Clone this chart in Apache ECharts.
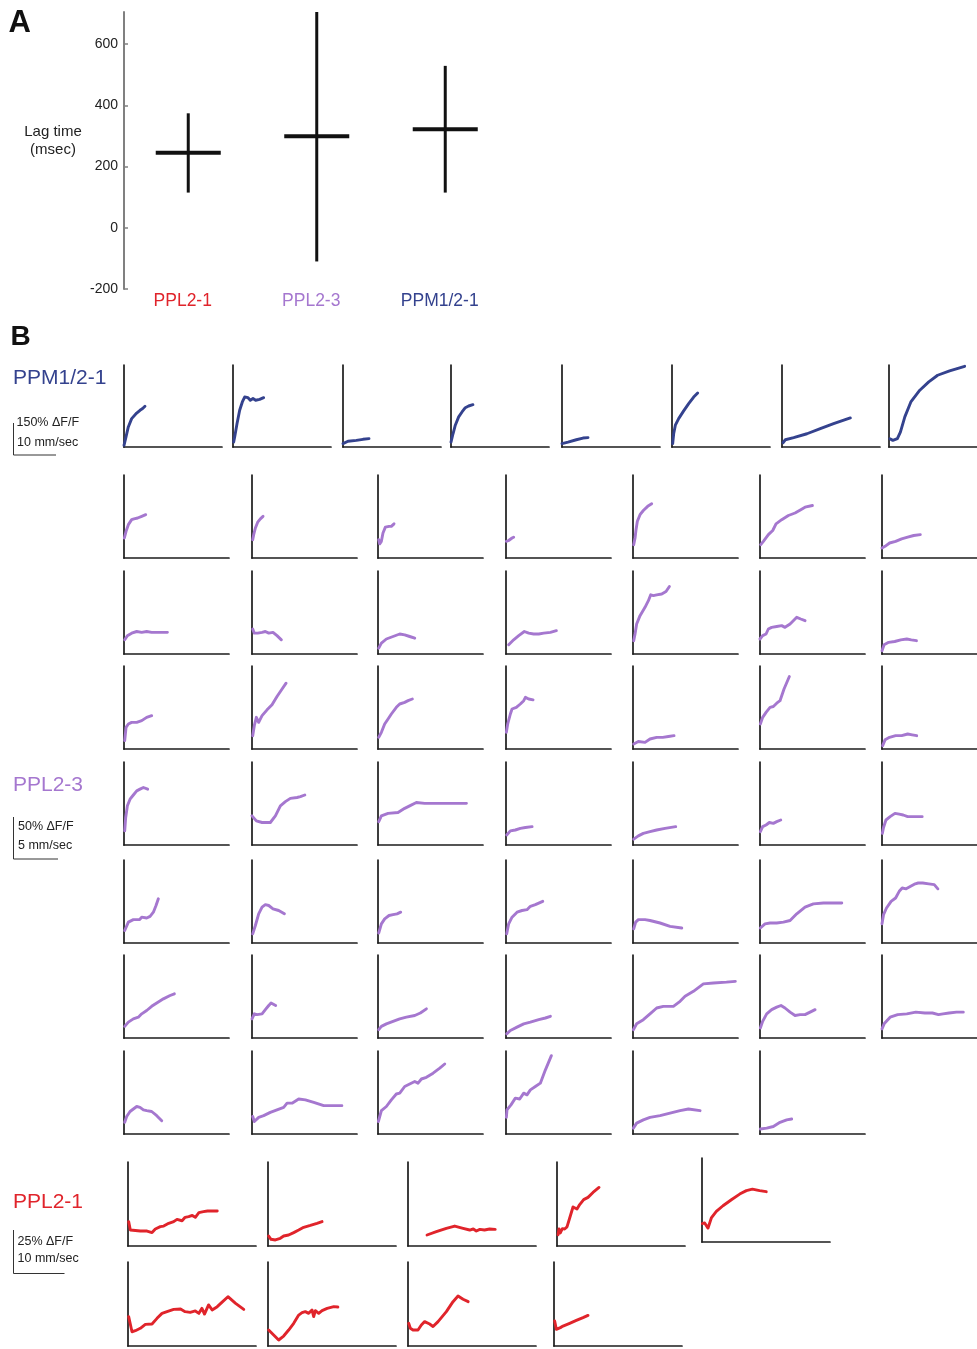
<!DOCTYPE html>
<html><head><meta charset="utf-8">
<script src="https://cdn.jsdelivr.net/npm/echarts@6/dist/echarts.min.js"></script>
<style>html,body{margin:0;padding:0;background:#fff}#c{width:977px;height:1349px}</style>
</head><body><div id="c"></div>
<script>
// ---------- Panel A data ----------
const lagCategories = ['PPL2-1', 'PPL2-3', 'PPM1/2-1'];
const lagMean = [245, 299, 322];
const lagLow = [115, -110, 115];
const lagHigh = [374, 705, 529];
const lagTicks = [-200, 0, 200, 400, 600];

// ---------- Panel B data: [speed (mm/sec), ΔF/F (%)] ----------
const ppmTraces = [
  [[0,8],[0.47,47],[1.0,94],[1.78,133],[2.95,159],[3.72,172],[4.34,180],[4.88,191]],
  [[0.16,23],[0.39,47],[0.93,109],[1.55,172],[2.17,211],[2.71,234],[3.1,227],[3.49,231],[4.03,219],[4.65,227],[5.27,219],[6.2,223],[7.13,231]],
  [[0,16],[1.16,27],[3.1,31],[4.65,36],[6.05,39]],
  [[0,23],[0.47,62],[1.0,102],[1.78,141],[2.56,164],[3.33,184],[4.1,192],[5.1,198]],
  [[0,16],[1.4,23],[3.33,34],[4.88,42],[6.05,44]],
  [[0.16,16],[0.39,62],[0.78,102],[1.55,133],[2.71,169],[3.88,203],[5.04,234],[5.97,253]],
  [[0.23,20],[0.78,34],[2.71,44],[5.81,62],[8.91,86],[12.0,109],[15.9,136]],
  [[0.23,39],[1.0,31],[2.17,39],[2.95,70],[4.1,141],[5.66,211],[7.98,266],[10.3,305],[12.6,336],[15.7,356],[19.6,378]]
];

const ppl23Traces = [
  // row 1
  [[0.04,24],[0.23,32],[0.49,40],[0.86,46],[1.13,47],[1.35,45],[1.54,48],[1.99,50],[2.44,52]],
  [[0.08,22],[0.19,28],[0.38,36],[0.64,43],[0.94,47],[1.24,50]],
  [[0.08,22],[0.19,17],[0.38,20],[0.56,30],[0.83,37],[1.24,38],[1.5,38],[1.8,41]],
  [[0.04,20],[0.3,21],[0.49,23],[0.68,24],[0.86,25]],
  [[0.08,16],[0.23,24],[0.34,34],[0.49,44],[0.79,52],[1.16,57],[1.65,62],[2.1,65]],
  [[0.08,16],[0.38,20],[0.94,28],[1.43,33],[1.8,41],[2.44,46],[3.19,51],[3.94,54],[4.58,58],[5.06,61],[5.89,63]],
  [[0,12],[0.38,14],[0.94,18],[1.69,20],[2.44,23],[3.19,25],[3.94,27],[4.76,28]],
  // row 2
  [[0.08,17],[0.38,22],[0.86,25],[1.43,27],[1.99,26],[2.55,27],[3.11,26],[3.68,26],[4.24,26],[4.88,26]],
  [[0.08,30],[0.26,25],[0.64,25],[1.13,26],[1.5,27],[1.88,25],[2.36,26],[2.81,22],[3.3,17]],
  [[0.08,7],[0.38,13],[0.94,18],[1.69,21],[2.44,24],[3.0,23],[3.56,21],[4.13,19]],
  [[0.3,11],[0.86,17],[1.43,22],[2.06,27],[2.55,25],[3.11,24],[3.68,24],[4.24,25],[4.99,26],[5.66,28]],
  [[0.08,16],[0.23,24],[0.41,36],[0.79,46],[1.35,56],[1.73,64],[1.99,71],[2.29,70],[2.66,71],[3.23,72],[3.71,75],[4.09,81]],
  [[0,18],[0.3,22],[0.68,24],[0.94,30],[1.31,32],[1.88,33],[2.44,34],[2.81,32],[3.38,36],[4.13,44],[4.58,42],[5.06,40]],
  [[0,4],[0.26,11],[0.83,14],[1.58,15],[2.33,17],[3.08,18],[3.64,17],[4.28,16]],
  // row 3
  [[0.08,10],[0.23,26],[0.49,30],[0.86,32],[1.43,32],[1.99,34],[2.55,38],[3.11,40]],
  [[0.08,16],[0.26,28],[0.49,38],[0.75,32],[1.13,40],[1.69,47],[2.25,53],[2.81,63],[3.38,72],[3.83,79]],
  [[0.08,14],[0.38,20],[0.75,30],[1.13,36],[1.5,42],[2.06,50],[2.44,54],[3.0,56],[3.38,58],[3.86,60]],
  [[0.04,20],[0.19,30],[0.49,42],[0.68,48],[1.16,50],[1.61,54],[1.99,58],[2.18,62],[2.55,60],[3.04,59]],
  [[0.08,6],[0.6,9],[1.35,8],[1.91,12],[2.66,14],[3.34,14],[3.98,15],[4.61,16]],
  [[0.04,30],[0.3,38],[0.68,44],[1.13,50],[1.5,51],[1.88,55],[2.25,58],[2.7,72],[3.3,87]],
  [[0.08,4],[0.38,11],[0.94,14],[1.69,16],[2.44,16],[3.19,18],[3.75,17],[4.31,16]],
  // row 4
  [[0.08,17],[0.19,33],[0.38,47],[0.68,55],[1.05,60],[1.43,65],[1.8,67],[2.18,69],[2.66,67]],
  [[0,35],[0.49,29],[1.13,27],[2.06,27],[2.63,35],[3.19,47],[3.75,52],[4.31,56],[5.06,57],[5.44,58],[5.93,60]],
  [[0.08,28],[0.38,35],[1.13,38],[2.25,39],[3.0,44],[3.56,47],[4.31,51],[5.25,50],[6.19,50],[7.88,50],[8.81,50],[9.94,50]],
  [[0.08,12],[0.49,17],[1.05,18],[1.61,20],[2.18,21],[2.93,22]],
  [[0.08,7],[0.6,11],[1.16,14],[1.91,16],[2.66,18],[3.6,20],[4.8,22]],
  [[0.04,16],[0.3,22],[0.68,24],[1.05,27],[1.5,26],[1.88,28],[2.33,30]],
  [[0.04,14],[0.19,21],[0.49,30],[1.01,34],[1.61,38],[2.14,37],[2.63,36],[3.19,34],[3.94,34],[4.99,34]],
  // row 5
  [[0.08,15],[0.49,25],[1.05,28],[1.73,28],[1.99,31],[2.55,30],[2.93,32],[3.3,37],[3.6,45],[3.86,53]],
  [[0.08,11],[0.38,21],[0.75,35],[1.13,43],[1.5,46],[1.88,45],[2.36,41],[3.0,39],[3.64,35]],
  [[0.08,12],[0.38,23],[0.75,29],[1.24,33],[1.69,34],[2.14,35],[2.55,37]],
  [[0.08,11],[0.3,23],[0.68,31],[1.24,37],[1.8,39],[2.36,40],[2.74,44],[3.3,46],[4.13,50]],
  [[0.08,17],[0.3,25],[0.6,28],[1.35,28],[1.91,27],[3.04,24],[4.16,20],[5.48,18]],
  [[0.04,18],[0.56,23],[1.13,24],[1.88,24],[2.63,25],[3.38,27],[4.13,35],[5.06,43],[6.0,47],[7.13,48],[8.06,48],[9.19,48]],
  [[0,23],[0.19,34],[0.56,42],[1.13,50],[1.69,54],[2.14,62],[2.51,66],[3.0,65],[3.56,68],[4.13,71],[4.5,72],[5.06,72],[5.81,71],[6.49,70],[6.94,65]],
  // row 6
  [[0.08,14],[0.49,19],[1.05,23],[1.61,25],[1.99,29],[2.55,33],[3.11,38],[3.68,42],[4.43,47],[5.18,51],[5.66,53]],
  [[0,23],[0.26,29],[0.56,28],[1.13,29],[1.5,34],[1.88,39],[2.14,42],[2.36,40],[2.66,39]],
  [[0.08,10],[0.38,14],[0.94,17],[1.69,20],[2.44,23],[3.19,25],[4.13,27],[4.76,30],[5.44,35]],
  [[0.08,5],[0.49,9],[1.24,13],[1.99,17],[2.74,19],[3.68,22],[4.43,24],[4.99,26]],
  [[0.04,10],[0.41,17],[1.16,22],[1.91,29],[2.66,36],[3.41,38],[4.54,38],[5.29,44],[5.85,50],[6.79,56],[7.91,65],[9.04,66],[10.5,67],[11.5,68]],
  [[0.04,12],[0.3,20],[0.75,29],[1.31,34],[1.88,37],[2.36,39],[2.81,36],[3.38,31],[3.94,27],[4.5,28],[5.06,28],[5.63,31],[6.19,34]],
  [[0,11],[0.26,17],[1.01,25],[1.95,28],[3.08,29],[4.2,31],[5.33,30],[6.26,30],[7.01,28],[7.58,29],[8.33,30],[9.26,31],[10.1,31]],
  // row 7
  [[0.08,14],[0.3,21],[0.68,27],[1.05,30],[1.43,33],[1.8,32],[2.18,29],[2.55,28],[3.11,27],[3.68,22],[4.24,16]],
  [[0.08,21],[0.26,15],[0.75,20],[1.31,22],[2.06,26],[2.81,29],[3.56,32],[3.94,37],[4.5,37],[5.25,42],[6.0,41],[6.94,38],[8.06,34],[9.19,34],[10.1,34]],
  [[0.04,15],[0.38,28],[0.94,33],[1.5,41],[2.06,48],[2.44,49],[3.0,57],[3.56,60],[4.13,63],[4.5,61],[4.88,66],[5.44,68],[6.19,73],[6.94,79],[7.5,84]],
  [[0.04,20],[0.11,29],[0.56,35],[1.05,43],[1.54,42],[1.99,49],[2.36,47],[2.74,53],[3.3,57],[3.86,61],[4.43,77],[5.1,94]],
  [[0.04,7],[0.41,13],[1.16,17],[1.91,20],[3.04,22],[4.16,25],[5.29,28],[6.23,30],[7.54,28]],
  [[0.04,6],[0.75,7],[1.5,9],[2.25,14],[3.0,17],[3.56,18]]
];

const ppl21Traces = [
  [[0.13,14.2],[0.46,9.3],[0.78,8.7],[2.42,8.7],[3.73,8.7],[4.71,7.8],[5.36,9.9],[6.34,11.3],[7.0,11.6],[7.98,13.2],[8.96,14.2],[9.61,15.5],[10.6,14.7],[11.2,16.7],[11.9,17.1],[12.6,17.8],[13.2,16.7],[13.9,19.4],[14.8,20],[15.6,20.4],[17.5,20.4]],
  [[0.13,5.8],[0.59,3.9],[1.44,3.5],[2.42,4.5],[3.07,5.8],[4.05,6.4],[5.04,7.8],[6.02,9.3],[7.0,10.9],[8.31,12],[9.61,13.2],[10.6,14.2]],
  [[3.73,6.4],[5.56,8.3],[7.52,10.3],[9.16,11.6],[10.8,10.3],[12.1,9.3],[12.8,9.9],[13.4,8.7],[14.1,9.7],[15.0,9.3],[16.0,9.9],[17.1,9.7]],
  [[0.2,6.6],[0.39,9.9],[0.65,7.6],[1.05,10.1],[1.5,9.9],[1.96,11.1],[2.49,16.3],[3.14,22.7],[3.92,21.5],[4.45,24.1],[5.23,27],[6.08,28.3],[7.06,31.2],[8.24,34.1]],
  [[0.07,10.7],[0.52,11.1],[1.18,8.1],[1.83,14],[2.81,17.8],[4.12,21.1],[5.76,24.6],[7.39,27.9],[8.7,29.9],[9.88,30.8],[11.3,29.9],[12.6,29.3]],
  [[0.13,17.1],[0.78,8.3],[1.44,8.9],[2.42,10.3],[3.4,12.6],[4.71,12.8],[5.69,16.1],[6.67,19],[7.65,20],[8.96,21.3],[10.3,21.5],[11.2,20],[12.2,19.6],[13.2,20.4],[13.9,19],[14.5,21.9],[15.0,18.6],[15.8,23.9],[16.5,21],[17.5,22.9],[18.4,25.4],[19.6,28.7],[21.1,24.8],[22.7,21.3]],
  [[0.13,9.3],[1.11,6.4],[2.09,3.5],[3.07,5.8],[4.05,9.3],[5.04,13.2],[6.02,18],[6.67,19.4],[7.32,20],[7.98,19],[8.63,21],[8.96,17.1],[9.29,20.6],[9.94,19],[10.6,20.6],[11.6,21.9],[12.9,22.9],[13.7,22.7]],
  [[0.13,13.2],[0.46,10.3],[0.98,9.3],[1.96,9.3],[2.62,12.2],[3.27,14.2],[4.25,12.8],[4.91,11.3],[5.89,14.2],[7.52,20],[8.83,25.8],[9.81,29.1],[10.8,27.2],[11.8,25.8]],
  [[0.13,14.6],[0.46,9.7],[0.78,8.7],[1.24,10.7],[1.77,11.6],[3.07,13.2],[4.38,14.9],[5.69,16.5],[6.67,17.8]]
];

// axis extents of each group (speed, ΔF/F)
const ppmRange = [22.8, 384];
const ppl23Range = [11.8, 99.6];
const ppl21Range = [25.1, 48.9];

// ---------- styling / layout ----------
const FONT = "'Liberation Sans', Arial, sans-serif";
const C_BLUE = '#34428e', C_PURPLE = '#a577cf', C_RED = '#e0242b';
const AX = '#1c1c1c';

const grids = [], xAxes = [], yAxes = [], series = [];

// Panel A
grids.push({left: 124, top: 12, width: 385.5, height: 277});
xAxes.push({
  type: 'category', gridIndex: 0,
  data: lagCategories.map((c, i) => ({value: c, textStyle: {color: [C_RED, C_PURPLE, C_BLUE][i]}})),
  axisLine: {show: false}, axisTick: {show: false},
  axisLabel: {fontSize: 17.5, fontFamily: FONT, margin: 3, padding: [0, 11, 0, 0]}
});
yAxes.push({
  type: 'value', gridIndex: 0, min: -200, max: 705, interval: 200,
  axisLine: {show: true, onZero: false, lineStyle: {color: '#808080', width: 2}},
  axisTick: {show: true, inside: true, length: 4, lineStyle: {color: '#808080', width: 1.5}, customValues: lagTicks},
  axisLabel: {fontSize: 14, fontFamily: FONT, color: '#222', margin: 6, customValues: lagTicks,
              formatter: v => lagTicks.includes(v) ? String(v) : ''},
  splitLine: {show: false}
});
series.push({
  type: 'custom', xAxisIndex: 0, yAxisIndex: 0, silent: true,
  data: lagCategories.map((c, i) => [i, lagMean[i], lagLow[i], lagHigh[i]]),
  encode: {x: 0, y: 1},
  renderItem: (params, api) => {
    const x = api.value(0);
    const pm = api.coord([x, api.value(1)]);
    const pl = api.coord([x, api.value(2)]);
    const ph = api.coord([x, api.value(3)]);
    const hw = api.size([1, 0])[0] * 0.253;
    return {type: 'group', children: [
      {type: 'line', shape: {x1: pl[0], y1: pl[1], x2: ph[0], y2: ph[1]}, style: {stroke: '#111', lineWidth: 3}},
      {type: 'line', shape: {x1: pm[0] - hw, y1: pm[1], x2: pm[0] + hw, y2: pm[1]}, style: {stroke: '#111', lineWidth: 4}}
    ]};
  }
});

function addPanel(left, top, w, h, range, data, color) {
  const i = grids.length;
  grids.push({left, top, width: w, height: h});
  const axisLine = {show: true, onZero: false, lineStyle: {color: AX, width: 1.7}};
  xAxes.push({type: 'value', gridIndex: i, min: 0, max: range[0], axisLine,
    axisTick: {show: false}, axisLabel: {show: false}, splitLine: {show: false}});
  yAxes.push({type: 'value', gridIndex: i, min: 0, max: range[1], axisLine,
    axisTick: {show: false}, axisLabel: {show: false}, splitLine: {show: false}});
  series.push({type: 'line', xAxisIndex: i, yAxisIndex: i, data, showSymbol: false, symbol: 'none',
    silent: true, clip: false, lineStyle: {color, width: 2.9, join: 'round', cap: 'round'}});
}

// PPM1/2-1 row
const ppmLefts = [124, 233, 343, 451, 562, 672, 782, 889];
ppmTraces.forEach((d, k) => addPanel(ppmLefts[k], 365, 98, 82, ppmRange, d, C_BLUE));

// PPL2-3 grid
const p23Cols = [124, 252, 378, 506, 633, 760, 882];
const p23Rows = [475, 571, 666, 762, 860, 955, 1051];
ppl23Traces.forEach((d, k) => {
  const r = Math.floor(k / 7), c = k % 7;
  addPanel(p23Cols[c], p23Rows[r], 105, 83, ppl23Range, d, C_PURPLE);
});

// PPL2-1
const p21Pos = [[128,1162],[268,1162],[408,1162],[557,1162],[702,1158],[128,1262],[268,1262],[408,1262],[554,1262]];
ppl21Traces.forEach((d, k) => addPanel(p21Pos[k][0], p21Pos[k][1], 128, 84, ppl21Range, d, C_RED));

// ---------- annotations ----------
function txt(x, y, text, size, color, weight, align) {
  return {type: 'text', x, y, silent: true,
    style: {text, fill: color, font: (weight || 'normal') + ' ' + size + 'px ' + FONT,
            align: align || 'left', verticalAlign: 'middle'}};
}
function bar(pts) {
  return {type: 'polyline', silent: true, shape: {points: pts}, style: {stroke: '#333', lineWidth: 1, fill: null}};
}
const graphic = [
  txt(8.5, 23, 'A', 31, '#111', 'bold'),
  txt(10.5, 337, 'B', 28, '#111', 'bold'),
  txt(53, 131.5, 'Lag time', 15, '#222', 'normal', 'center'),
  txt(53, 150, '(msec)', 15, '#222', 'normal', 'center'),
  txt(13, 378.5, 'PPM1/2-1', 21, C_BLUE),
  txt(13, 785, 'PPL2-3', 21, C_PURPLE),
  txt(13, 1202, 'PPL2-1', 21, C_RED),
  bar([[13.5, 423], [13.5, 455], [56, 455]]),
  txt(16.5, 423, '150% ΔF/F', 12.5, '#222'),
  txt(17, 443, '10 mm/sec', 12.5, '#222'),
  bar([[13.5, 817], [13.5, 859], [58, 859]]),
  txt(18, 827, '50% ΔF/F', 12.5, '#222'),
  txt(18, 846, '5 mm/sec', 12.5, '#222'),
  bar([[13.5, 1230], [13.5, 1273.5], [64.5, 1273.5]]),
  txt(17.5, 1241.5, '25% ΔF/F', 12.5, '#222'),
  txt(17.5, 1258.5, '10 mm/sec', 12.5, '#222')
];

const chart = echarts.init(document.getElementById('c'), null, {renderer: 'canvas'});
chart.setOption({
  animation: false,
  backgroundColor: '#fff',
  grid: grids, xAxis: xAxes, yAxis: yAxes, series, graphic
});
</script></body></html>
